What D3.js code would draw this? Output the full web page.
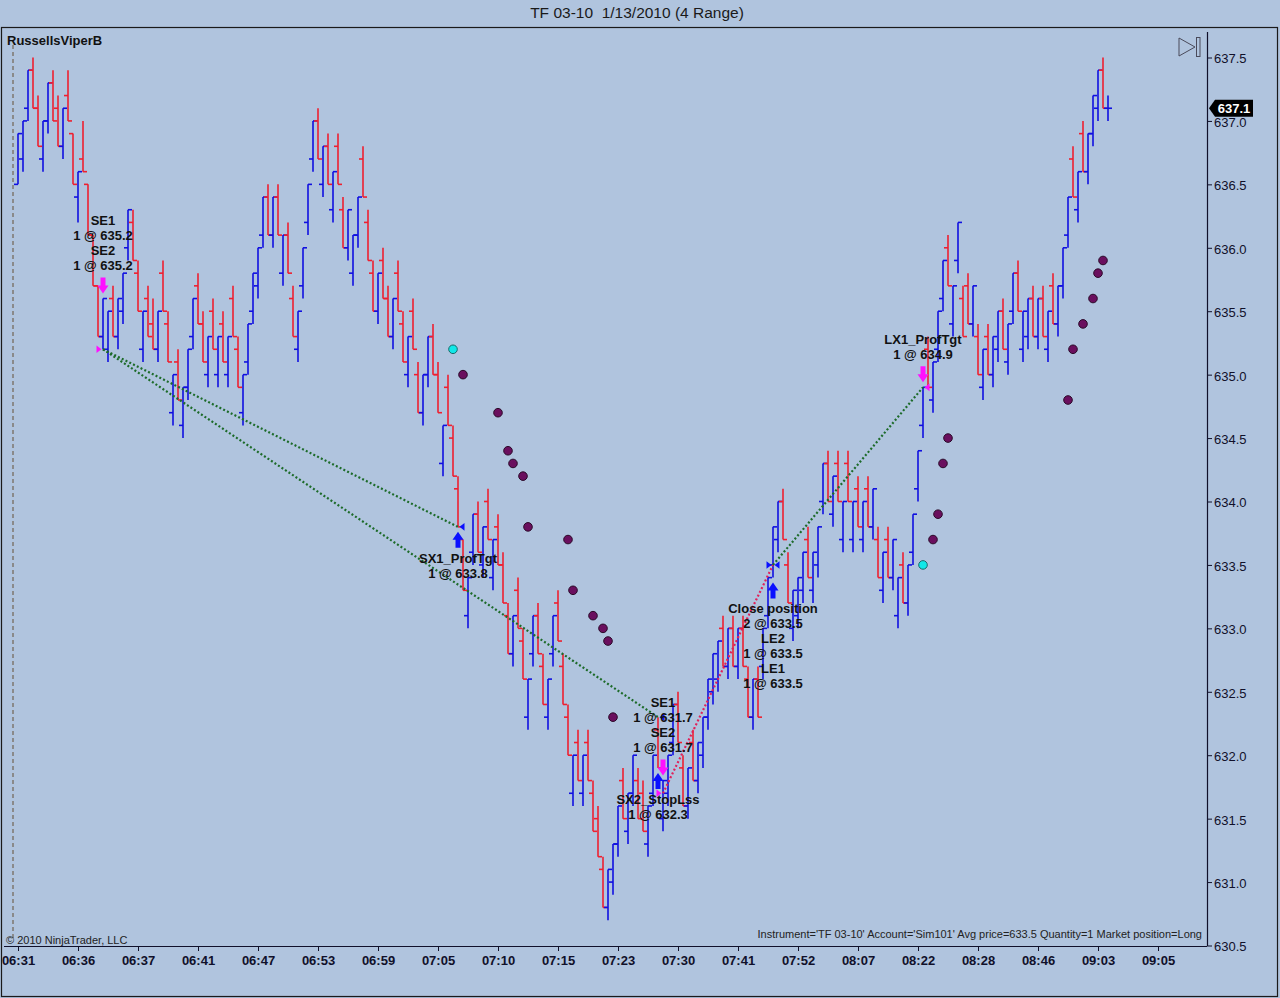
<!DOCTYPE html>
<html><head><meta charset="utf-8">
<script src="https://cdn.jsdelivr.net/npm/d3@7"></script>
<style>
html,body{margin:0;padding:0;background:#b0c4de;}
svg{display:block;font-family:"Liberation Sans",Arial,sans-serif;}
</style></head><body>
<svg id="chart" width="1280" height="998"></svg>
<script>
// ---------- DATA ----------
const highs=[
636.9,637.0,637.4,637.5,637.2,637.0,637.3,637.4,637.2,637.1,
637.4,636.9,636.6,637.0,636.5,636.1,635.7,635.6,635.5,635.7,
635.6,635.8,636.3,636.3,635.9,635.5,635.7,635.6,635.5,635.9,
635.5,635.0,635.2,634.9,635.2,635.6,635.8,635.5,635.3,635.6,
635.3,635.5,635.3,635.7,635.3,635.0,635.4,635.8,636.0,636.4,
636.5,636.4,636.5,636.1,636.2,635.7,635.5,636.0,636.5,637.0,
637.1,636.8,636.9,636.6,636.9,636.4,636.3,636.1,636.4,636.8,
636.3,635.9,635.8,636.0,635.7,635.6,635.9,635.5,635.3,635.6,
635.1,635.0,635.3,635.4,635.1,634.6,635.0,634.6,634.2,633.7,
633.4,633.9,634.0,633.8,634.1,633.7,633.9,633.6,633.2,633.1,
633.4,633.0,632.6,633.1,633.2,632.8,632.6,633.1,633.3,632.8,
632.4,632.0,632.2,632.0,632.2,631.8,631.6,631.2,631.1,631.3,
631.6,631.9,631.7,632.0,631.9,631.8,631.6,632.0,632.3,631.8,
632.0,632.4,632.5,632.0,631.9,632.2,632.1,632.3,632.6,632.8,
632.9,633.1,633.0,633.1,633.0,633.1,632.7,632.6,632.7,633.0,
633.4,633.8,634.0,634.1,633.6,633.3,633.4,633.6,633.8,633.6,
633.8,634.3,634.4,634.2,634.4,634.0,634.4,634.0,634.2,634.0,
634.2,634.1,633.8,633.6,633.8,633.7,633.4,633.6,633.5,633.9,
634.4,634.9,635.3,635.1,635.5,635.9,636.1,635.7,636.2,635.7,
635.8,635.7,635.4,635.2,635.4,635.3,635.5,635.6,635.4,635.8,
635.9,635.5,635.6,635.7,635.6,635.7,635.5,635.8,635.7,636.0,
636.4,636.8,636.6,637.0,636.9,637.2,637.4,637.5,637.2];
const lows=[
636.5,636.6,637.0,637.1,636.8,636.6,636.9,637.0,636.8,636.7,
637.0,636.5,636.2,636.6,636.1,635.7,635.3,635.2,635.1,635.3,
635.2,635.4,635.9,635.9,635.5,635.1,635.3,635.2,635.1,635.5,
635.1,634.6,634.8,634.5,634.8,635.2,635.4,635.1,634.9,635.2,
634.9,635.1,634.9,635.3,634.9,634.6,635.0,635.4,635.6,636.0,
636.1,636.0,636.1,635.7,635.8,635.3,635.1,635.6,636.1,636.6,
636.7,636.4,636.5,636.2,636.5,636.0,635.9,635.7,636.0,636.4,
635.9,635.5,635.4,635.6,635.3,635.2,635.5,635.1,634.9,635.2,
634.7,634.6,634.9,635.0,634.7,634.2,634.6,634.2,633.8,633.3,
633.0,633.5,633.6,633.4,633.7,633.3,633.5,633.2,632.8,632.7,
633.0,632.6,632.2,632.7,632.8,632.4,632.2,632.7,632.9,632.4,
632.0,631.6,631.8,631.6,631.8,631.4,631.2,630.8,630.7,630.9,
631.2,631.5,631.3,631.6,631.5,631.4,631.2,631.6,631.9,631.4,
631.6,632.0,632.1,631.6,631.5,631.8,631.7,631.9,632.2,632.4,
632.5,632.7,632.6,632.7,632.6,632.7,632.3,632.2,632.3,632.6,
633.0,633.4,633.6,633.7,633.2,632.9,633.0,633.2,633.4,633.2,
633.4,633.9,634.0,633.8,634.0,633.6,634.0,633.6,633.8,633.6,
633.8,633.7,633.4,633.2,633.4,633.3,633.0,633.2,633.1,633.5,
634.0,634.5,634.9,634.7,635.1,635.5,635.7,635.3,635.8,635.3,
635.4,635.3,635.0,634.8,635.0,634.9,635.1,635.2,635.0,635.4,
635.5,635.1,635.2,635.3,635.2,635.3,635.1,635.4,635.3,635.6,
636.0,636.4,636.2,636.6,636.5,636.8,637.0,637.1,637.0];
const opens=[
636.5,636.7,637.1,637.4,637.1,636.7,637.0,637.3,637.1,636.8,
637.2,636.9,636.4,636.7,636.5,636.1,635.7,635.3,635.2,635.6,
635.3,635.5,636.0,636.2,635.8,635.2,635.6,635.4,635.2,635.8,
635.4,634.7,635.1,634.6,634.9,635.3,635.7,635.4,635.0,635.5,
635.0,635.4,635.0,635.6,635.2,634.7,635.1,635.5,635.7,636.1,
636.4,636.1,636.4,635.8,636.1,635.6,635.2,635.7,636.2,636.7,
637.0,636.5,636.8,636.3,636.8,636.3,636.0,635.8,636.1,636.7,
636.2,635.8,635.5,635.9,635.6,635.3,635.8,635.4,635.0,635.5,
635.0,634.7,635.0,635.3,635.0,634.3,634.9,634.5,634.1,633.7,
633.1,633.6,633.9,633.5,634.0,633.4,633.8,633.5,633.1,632.8,
633.3,632.9,632.3,632.8,633.1,632.7,632.3,632.8,633.2,632.7,
632.3,631.7,632.1,631.7,632.1,631.7,631.5,631.1,630.8,631.0,
631.3,631.8,631.4,631.7,631.8,631.7,631.3,631.7,632.2,631.5,
631.7,632.1,632.4,631.9,631.6,632.1,631.8,632.0,632.3,632.5,
632.6,633.0,632.7,633.0,632.7,633.0,632.6,632.3,632.6,632.7,
633.1,633.5,633.7,634.0,633.5,633.0,633.1,633.3,633.7,633.3,
633.5,634.0,634.3,633.9,634.3,633.7,634.3,633.7,634.1,633.7,
634.1,633.8,633.7,633.3,633.7,633.4,633.1,633.5,633.2,633.6,
634.1,634.6,635.2,634.8,635.2,635.6,636.0,635.4,635.9,635.6,
635.7,635.4,635.3,634.9,635.3,635.0,635.2,635.5,635.1,635.5,
635.8,635.2,635.3,635.6,635.3,635.6,635.2,635.7,635.4,635.7,
636.1,636.7,636.3,636.9,636.6,636.9,637.1,637.4,637.1];
const closes=[
636.9,637.0,637.4,637.1,636.8,637.0,637.3,637.0,636.8,637.1,
637.0,636.5,636.6,636.6,636.1,635.7,635.3,635.6,635.5,635.3,
635.6,635.8,636.3,635.9,635.5,635.5,635.3,635.2,635.5,635.5,
635.1,635.0,634.8,634.9,635.2,635.6,635.4,635.1,635.3,635.2,
635.3,635.1,635.3,635.3,634.9,635.0,635.4,635.8,636.0,636.4,
636.1,636.4,636.1,636.1,635.8,635.3,635.5,636.0,636.5,637.0,
636.7,636.8,636.5,636.6,636.5,636.0,636.3,636.1,636.4,636.4,
635.9,635.5,635.8,635.6,635.3,635.6,635.5,635.1,635.3,635.2,
634.7,635.0,635.3,635.0,634.7,634.6,634.6,634.2,633.8,633.3,
633.4,633.9,633.6,633.8,633.7,633.7,633.5,633.2,632.8,633.1,
633.0,632.6,632.6,633.1,632.8,632.4,632.6,633.1,632.9,632.4,
632.0,632.0,631.8,632.0,631.8,631.4,631.2,630.8,631.1,631.3,
631.6,631.5,631.7,632.0,631.5,631.4,631.6,632.0,631.9,631.8,
632.0,632.4,632.1,631.6,631.9,631.8,632.1,632.3,632.6,632.8,
632.9,632.7,633.0,632.7,633.0,632.7,632.3,632.6,632.3,633.0,
633.4,633.8,634.0,633.7,633.2,633.3,633.4,633.6,633.4,633.6,
633.8,634.3,634.0,634.2,634.0,634.0,634.0,634.0,633.8,634.0,
633.8,634.1,633.4,633.6,633.4,633.7,633.4,633.2,633.5,633.9,
634.4,634.9,634.9,635.1,635.5,635.9,635.7,635.7,636.2,635.3,
635.4,635.7,635.0,635.2,635.0,635.3,635.5,635.2,635.4,635.8,
635.5,635.5,635.6,635.3,635.6,635.3,635.5,635.4,635.7,636.0,
636.4,636.4,636.6,636.6,636.9,637.2,637.4,637.1,637.1];

const timeTickBars=[0,12,24,36,48,60,72,84,96,108,120,132,144,156,168,180,192,204,216,228];
const timeLabels=['06:31','06:36','06:37','06:41','06:47','06:53','06:59','07:05','07:10','07:15','07:23','07:30','07:41','07:52','08:07','08:22','08:28','08:46','09:03','09:05'];
const priceTicks=[630.5,631.0,631.5,632.0,632.5,633.0,633.5,634.0,634.5,635.0,635.5,636.0,636.5,637.0,637.5];

const dotBars=[87,89,96,98,99,101,102,110,111,115,117,118,119,181,183,184,185,186,210,211,213,215,216,217];
const dotValues=[635.2,635.0,634.7,634.4,634.3,634.2,633.8,633.7,633.3,633.1,633.0,632.9,632.3,633.5,633.7,633.9,634.3,634.5,634.8,635.2,635.4,635.6,635.8,635.9];
const dotKinds=['new','trail','trail','trail','trail','trail','trail','trail','trail','trail','trail','trail','trail','new','trail','trail','trail','trail','trail','trail','trail','trail','trail','trail'];

const execBars=[17,88,128,129,151,181];
const execPrices=[635.2,633.8,632.3,631.7,633.5,634.9];
const execSides=['sell','buy','buy','sell','buy','sell'];
const execTypes=['entry','exit','exit','entry','both','exit'];
const execLabels=[
 ['SE1','1 @ 635.2','SE2','1 @ 635.2'],
 ['SX1_ProfTgt','1 @ 633.8'],
 ['SX2_StopLss','1 @ 632.3'],
 ['SE1','1 @ 631.7','SE2','1 @ 631.7'],
 ['Close position','2 @ 633.5','LE2','1 @ 633.5','LE1','1 @ 633.5'],
 ['LX1_ProfTgt','1 @ 634.9']];

const tradeEntryBars=[17,17,129,151];
const tradeEntryPrices=[635.2,635.2,631.7,633.5];
const tradeExitBars=[88,128,151,181];
const tradeExitPrices=[633.8,632.3,633.5,634.9];
const tradeWin=[true,true,false,true];

const lastPrice=637.1;
const titleText='TF 03-10  1/13/2010 (4 Range)';
const strategyName='RussellsViperB';
const copyrightText='\u00A9 2010 NinjaTrader, LLC';
const instrumentText="Instrument='TF 03-10' Account='Sim101' Avg price=633.5 Quantity=1 Market position=Long";

// ---------- LAYOUT ----------
const W=1280,H=998;
const plotL=4, plotR=1207, plotT=27, plotB=946;
const UP='#1010e0', DOWN='#ee2030', BG='#b0c4de';

const svg=d3.select('#chart');
svg.append('rect').attr('width',W).attr('height',H).attr('fill',BG);

const x=d3.scaleLinear().domain([0,237.8]).range([18,plotR]);
const y=d3.scaleLinear().domain([630.5,637.5]).range([945.5,57.5]);

// title
svg.append('text').attr('x',637).attr('y',13).attr('text-anchor','middle').attr('dy','0.35em')
  .style('white-space','pre').attr('font-size','15.5px').attr('fill','#1a1a1a').text(titleText);

// frame
svg.append('rect').attr('x',1.5).attr('y',plotT+0.5).attr('width',1276).attr('height',969)
  .attr('fill','none').attr('stroke','#1a1a1a').attr('stroke-width',1.2);

// session dashed line
svg.append('line').attr('x1',13).attr('x2',13).attr('y1',45).attr('y2',938)
  .attr('stroke','#8a8a8a').attr('stroke-width',2).attr('stroke-dasharray','4,3');

// axes
const yAxis=d3.axisRight(y).tickValues(priceTicks).tickFormat(d3.format('.1f')).tickSize(5).tickSizeOuter(0).tickPadding(2);
const gy=svg.append('g').attr('transform',`translate(${plotR},0)`).call(yAxis);
gy.select('.domain').remove();
gy.selectAll('text').attr('font-size','13px').attr('fill','#10102a').attr('font-family','"Liberation Sans",Arial,sans-serif').attr('dy','0.42em');
gy.selectAll('line').attr('stroke','#10102a');

const xAxis=d3.axisBottom(x).tickValues(timeTickBars).tickFormat((d,i)=>timeLabels[i]).tickSize(5).tickSizeOuter(0).tickPadding(5);
const gx=svg.append('g').attr('transform',`translate(0,${plotB})`).call(xAxis);
gx.select('.domain').remove();
gx.selectAll('text').attr('font-size','13px').attr('font-weight','bold').attr('fill','#10102a').attr('font-family','"Liberation Sans",Arial,sans-serif');
gx.selectAll('line').attr('stroke','#10102a');

svg.append('line').attr('x1',plotR+0.5).attr('x2',plotR+0.5).attr('y1',32).attr('y2',plotB).attr('stroke','#10102a').attr('stroke-width',1.2);
svg.append('line').attr('x1',plotL).attr('x2',plotR).attr('y1',plotB+0.5).attr('y2',plotB+0.5).attr('stroke','#10102a').attr('stroke-width',1.2);

// bars
const bars=d3.range(highs.length).map(i=>({i,o:opens[i],h:highs[i],l:lows[i],c:closes[i]}));
const gb=svg.append('g').attr('stroke-width',1.6);
const bg=gb.selectAll('g').data(bars).join('g').attr('stroke',d=>d.c>=d.o?UP:DOWN);
bg.append('line').attr('x1',d=>x(d.i)).attr('x2',d=>x(d.i)).attr('y1',d=>y(d.h)).attr('y2',d=>y(d.l));
bg.append('line').attr('x1',d=>x(d.i)-4).attr('x2',d=>x(d.i)).attr('y1',d=>y(d.o)).attr('y2',d=>y(d.o));
bg.append('line').attr('x1',d=>x(d.i)).attr('x2',d=>x(d.i)+4).attr('y1',d=>y(d.c)).attr('y2',d=>y(d.c));

// trade connection lines
const gt=svg.append('g');
tradeEntryBars.forEach((b,k)=>{
  gt.append('line').attr('x1',x(b)).attr('y1',y(tradeEntryPrices[k]))
    .attr('x2',x(tradeExitBars[k])).attr('y2',y(tradeExitPrices[k]))
    .attr('stroke',tradeWin[k]?'#1d6b2a':'#e0205a').attr('stroke-width',2.2).attr('stroke-dasharray','2,2.2');
});

// indicator dots
svg.append('g').selectAll('circle').data(dotBars.map((b,k)=>({b,v:dotValues[k],t:dotKinds[k]}))).join('circle')
  .attr('cx',d=>x(d.b)).attr('cy',d=>y(d.v)).attr('r',4.3)
  .attr('fill',d=>d.t==='new'?'#10e8e8':'#6a0f5e')
  .attr('stroke',d=>d.t==='new'?'#1a6a6a':'#2a0a28').attr('stroke-width',1);

// executions: arrows, triangles, labels
const ga=svg.append('g');
execBars.forEach((b,k)=>{
  const cx=x(b), side=execSides[k], col=side==='sell'?'#ff10ff':'#0a10ff';
  const py=y(execPrices[k]);
  const tri=(dir)=>{
    const bx=cx-dir*6.5, tx=cx-dir*1.5;
    ga.append('path').attr('d',`M${bx},${py-3.8}L${bx},${py+3.8}L${tx},${py}Z`).attr('fill',col);
  };
  if(execTypes[k]==='entry'||execTypes[k]==='both') tri(1);
  if(execTypes[k]==='exit'||execTypes[k]==='both') tri(-1);
  const lines=execLabels[k], n=lines.length;
  if(side==='sell'){
    const top=y(highs[b])-21;
    ga.append('path').attr('d',`M${cx-2.5},${top}H${cx+2.5}V${top+8}H${cx+5.5}L${cx},${top+16}L${cx-5.5},${top+8}H${cx-2.5}Z`).attr('fill',col);
    lines.forEach((t,j)=>{
      ga.append('text').attr('x',cx).attr('y',y(highs[b])-33-(n-1-j)*15).attr('dy','0.36em')
        .attr('text-anchor','middle').attr('font-size','13px').attr('font-weight','bold').attr('fill','#111').text(t);
    });
  } else {
    const top=y(lows[b])+5;
    ga.append('path').attr('d',`M${cx},${top}L${cx+5.5},${top+8}H${cx+2.5}V${top+16}H${cx-2.5}V${top+8}H${cx-5.5}Z`).attr('fill',col);
    lines.forEach((t,j)=>{
      ga.append('text').attr('x',cx).attr('y',y(lows[b])+31+j*15).attr('dy','0.36em')
        .attr('text-anchor','middle').attr('font-size','13px').attr('font-weight','bold').attr('fill','#111').text(t);
    });
  }
});

// last price marker
const ly=y(lastPrice);
svg.append('path').attr('d',`M${plotR+2},${ly}L${plotR+8},${ly-8.5}H${plotR+46}V${ly+8.5}H${plotR+8}Z`).attr('fill','#000');
svg.append('text').attr('x',plotR+27).attr('y',ly).attr('dy','0.36em').attr('text-anchor','middle')
  .attr('font-size','13px').attr('font-weight','bold').attr('fill','#fff').text(lastPrice.toFixed(1));

// "go to end" icon
svg.append('path').attr('d','M1179,38L1179,56L1195,47Z').attr('fill','none').attr('stroke','#4a4a5a').attr('stroke-width',1);
svg.append('rect').attr('x',1196.5).attr('y',37.5).attr('width',3.5).attr('height',19).attr('fill','none').attr('stroke','#4a4a5a').attr('stroke-width',1);

// texts
svg.append('text').attr('x',7).attr('y',40).attr('dy','0.36em').attr('font-size','13px').attr('font-weight','bold').attr('fill','#111').text(strategyName);
svg.append('text').attr('x',6).attr('y',940).attr('dy','0.36em').attr('font-size','11px').attr('fill','#222').text(copyrightText);
svg.append('text').attr('x',1202).attr('y',934).attr('dy','0.36em').attr('text-anchor','end').attr('font-size','11px').attr('fill','#222').text(instrumentText);
</script></body></html>
